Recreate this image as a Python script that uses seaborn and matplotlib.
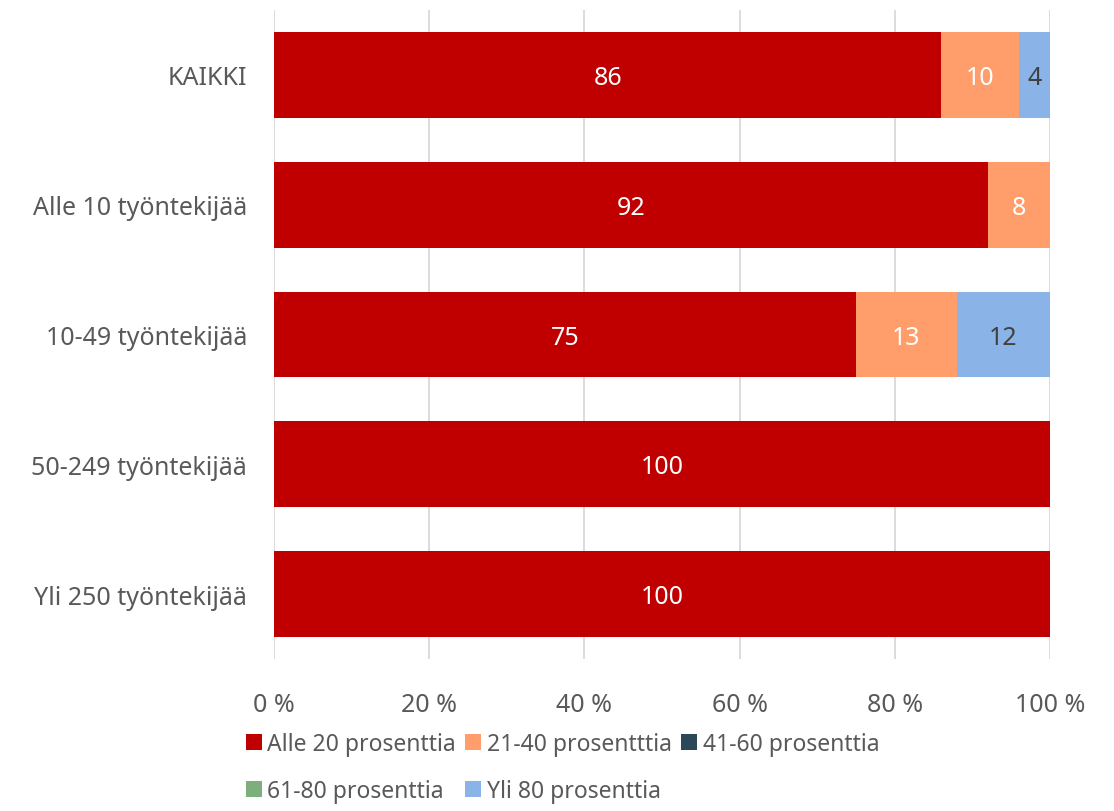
import matplotlib
matplotlib.use('Agg')
import matplotlib.pyplot as plt
import pandas as pd
import seaborn as sns
from matplotlib.patches import Patch

# Data
categories = ['KAIKKI', 'Alle 10 työntekijää', '10-49 työntekijää', '50-249 työntekijää', 'Yli 250 työntekijää']
series = ['Alle 20 prosenttia', '21-40 prosentttia', '41-60 prosenttia', '61-80 prosenttia', 'Yli 80 prosenttia']
alle20 = [86, 92, 75, 100, 100]
p21_40 = [10, 8, 13, 0, 0]
p41_60 = [0, 0, 0, 0, 0]
p61_80 = [0, 0, 0, 0, 0]
yli80 = [4, 0, 12, 0, 0]
values = [alle20, p21_40, p41_60, p61_80, yli80]
colors = ['#C00000', '#FF9E6A', '#2C4858', '#7DAF7C', '#8AB3E8']
label_colors = ['white', 'white', 'white', 'white', '#404040']

sns.set_style('white')
plt.rcParams['font.family'] = ['Noto Sans', 'DejaVu Sans']
text_gray = '#595959'

df = pd.DataFrame({'category': categories})
cum = [0] * len(categories)
cums = []
for s, v in zip(series, values):
    cum = [c + x for c, x in zip(cum, v)]
    cums.append(cum)
    df[s] = cum

fig = plt.figure(figsize=(11.14, 8.12), dpi=100)
ax = fig.add_axes([0.246, 0.1872, 0.6965, 0.7993])

# stacked bars: draw cumulative totals from last layer to first
for i in range(len(series) - 1, -1, -1):
    sns.barplot(data=df, x=series[i], y='category', orient='h', color=colors[i],
                width=0.66, saturation=1, linewidth=0, ax=ax, zorder=2)

# value labels
for i, s in enumerate(series):
    for j, v in enumerate(values[i]):
        if v > 0:
            ax.text(cums[i][j] - v / 2, j + 0.02, str(v), ha='center', va='center',
                    color=label_colors[i], fontsize=18, zorder=3)

ax.set_xlim(0, 100)
ax.set_ylim(len(categories) - 0.5, -0.5)
ax.set_xticks(range(0, 101, 20))
ax.set_xticklabels([f'{t} %' for t in range(0, 101, 20)])
ax.xaxis.grid(True, color='#D9D9D9', linewidth=1.3, zorder=0)
ax.set_axisbelow(True)
ax.set_xlabel('')
ax.set_ylabel('')
for sp in ax.spines.values():
    sp.set_visible(False)
ax.tick_params(axis='both', length=0, labelsize=18, colors=text_gray)
ax.tick_params(axis='x', pad=24)
ax.tick_params(axis='y', pad=19.5)

handles = [Patch(facecolor=c, edgecolor='none') for c in colors]
order = [0, 3, 1, 4, 2]
fig.legend([handles[k] for k in order], [series[k] for k in order],
           loc='lower center', bbox_to_anchor=(0.505, -0.016), ncol=3, frameon=False,
           fontsize=16.5, labelcolor=text_gray, handlelength=0.7, handleheight=0.7,
           handletextpad=0.25, columnspacing=0.4, labelspacing=1.0)

fig.savefig('out.png', dpi=100)
